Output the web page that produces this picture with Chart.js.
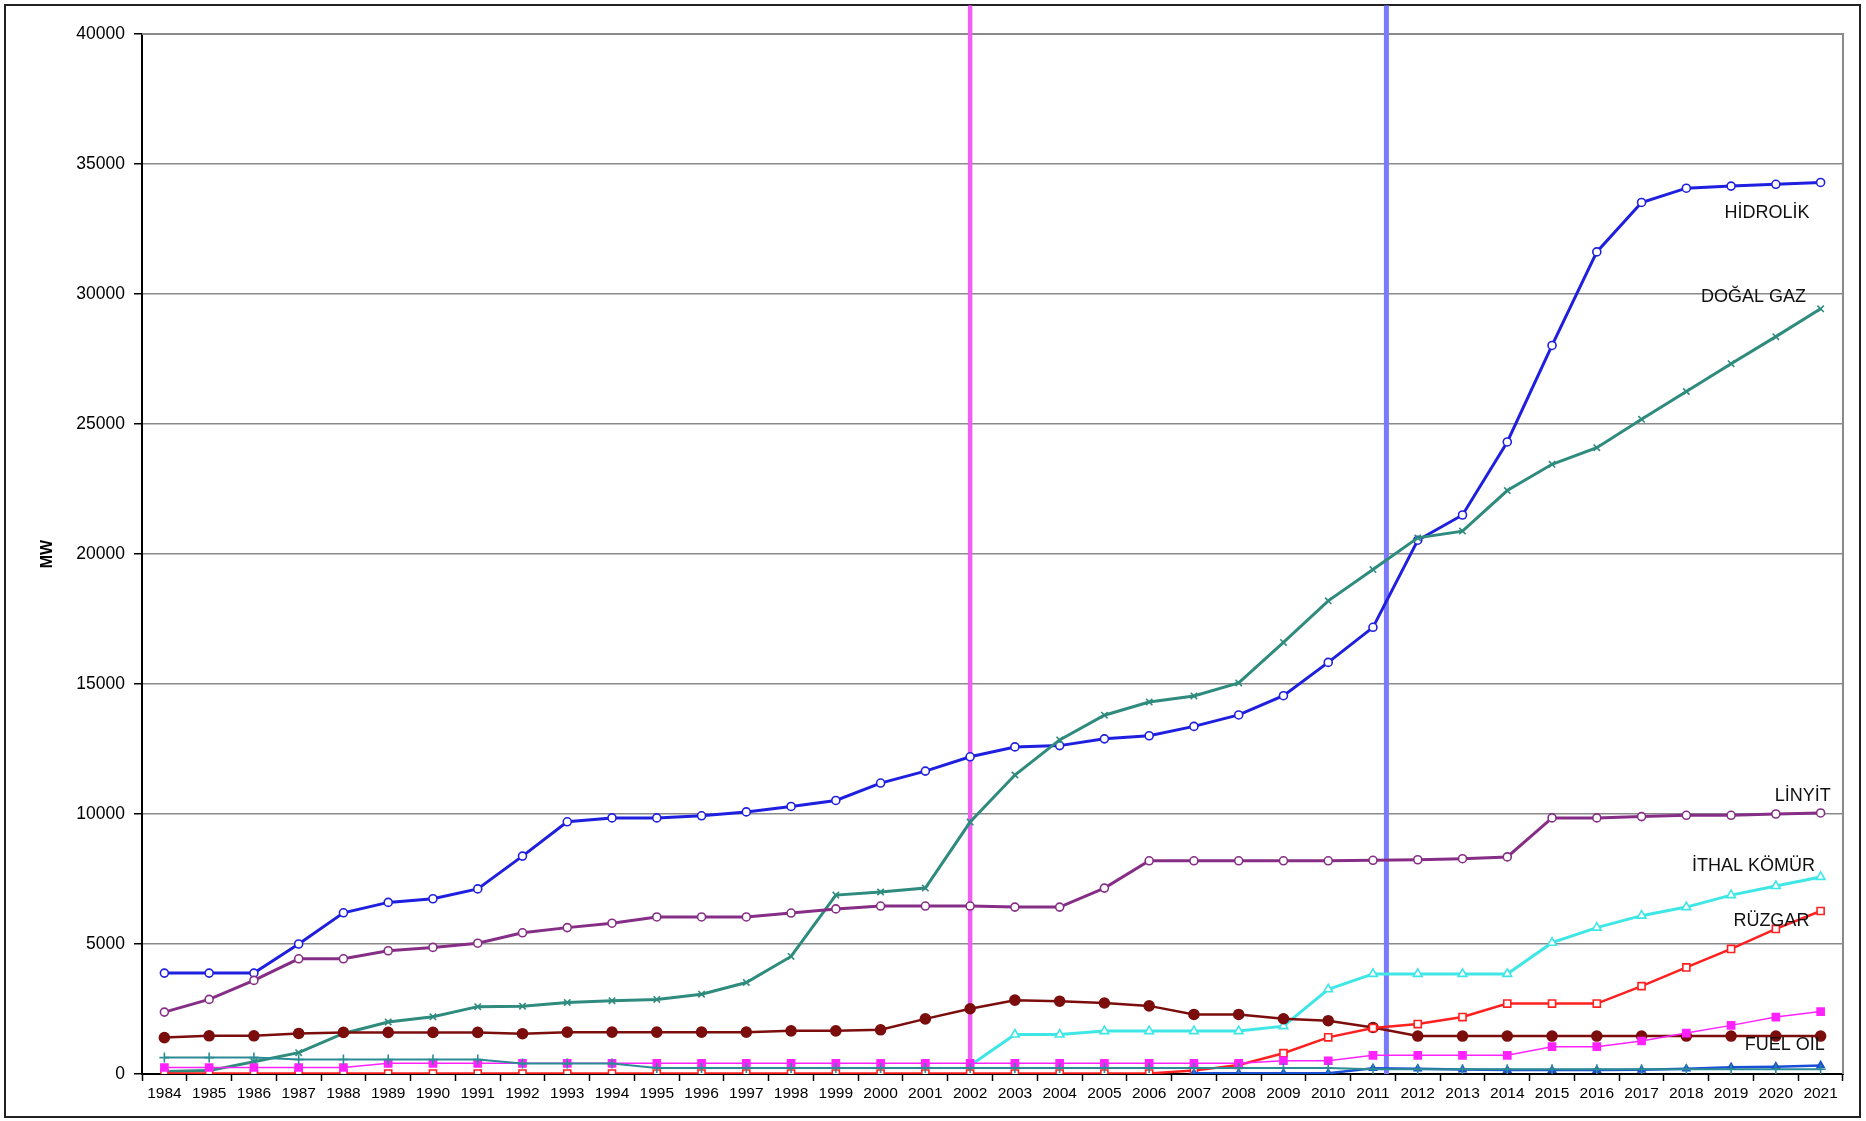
<!DOCTYPE html>
<html>
<head>
  <title>Kurulu Güç</title>
  <script src="https://cdn.jsdelivr.net/npm/chart.js"></script>
  <style>
    html, body {
      margin: 0;
      padding: 0;
      background: #fff;
      overflow: hidden;
    }
    #wrap {
      position: relative;
      width: 1866px;
      height: 1121px;
    }
  </style>
</head>
<body>
  <div id="wrap">
    <canvas id="capacityChart"></canvas>
  </div>

  <script>
    const years = ['1984','1985','1986','1987','1988','1989','1990','1991','1992','1993',
      '1994','1995','1996','1997','1998','1999','2000','2001','2002','2003',
      '2004','2005','2006','2007','2008','2009','2010','2011','2012','2013',
      '2014','2015','2016','2017','2018','2019','2020','2021'];

    const hidrolik = [3880,3880,3880,5000,6200,6600,6740,7120,8380,9700,
      9850,9850,9930,10080,10290,10520,11190,11650,12200,12580,
      12630,12890,13010,13370,13810,14550,15830,17180,20530,21500,
      24310,28020,31620,33520,34070,34150,34220,34290];

    const dogalGaz = [100,130,470,820,1560,2000,2200,2590,2610,2750,
      2820,2870,3070,3520,4520,6880,7000,7150,9690,11500,
      12850,13800,14310,14540,15040,16600,18200,19400,20620,20880,
      22440,23450,24090,25180,26250,27320,28360,29430];

    const linyit = [2380,2870,3600,4430,4430,4740,4870,5030,5430,5630,
      5800,6040,6040,6040,6190,6350,6460,6460,6460,6420,
      6420,7150,8200,8200,8200,8200,8200,8220,8240,8280,
      8350,9850,9850,9900,9950,9950,10000,10040];

    const ithalKomur = [null,null,null,null,null,null,null,null,null,null,
      null,null,null,null,null,null,null,null,330,1520,
      1520,1650,1650,1650,1650,1840,3260,3850,3850,3850,
      3850,5050,5630,6090,6420,6880,7230,7580];

    const ruzgar = [20,20,20,20,20,20,20,20,20,20,
      20,20,20,20,20,20,20,20,20,20,
      20,20,20,130,350,800,1410,1770,1920,2190,
      2710,2710,2710,3380,4100,4810,5580,6270];

    const fuelOil = [1400,1470,1470,1560,1600,1600,1600,1600,1550,1610,
      1610,1610,1610,1610,1660,1660,1700,2120,2510,2840,
      2800,2730,2620,2290,2290,2125,2050,1790,1460,1460,
      1460,1460,1460,1460,1460,1460,1460,1460];

    const diger = [250,250,250,250,250,410,410,410,410,410,
      410,410,410,410,410,410,410,410,410,410,
      410,410,410,410,410,510,510,717,717,717,
      717,1050,1050,1270,1575,1870,2190,2400];

    const tasKomuru = [630,630,630,560,560,560,560,560,400,400,
      400,230,230,230,230,230,230,230,230,230,
      230,230,230,230,230,230,230,180,180,180,
      180,180,180,180,180,180,180,180];

    const digerYeni = [null,null,null,null,null,null,null,null,null,null,
      null,null,null,null,null,null,null,null,null,null,
      null,null,null,30,30,30,30,220,200,170,
      150,150,150,160,200,260,280,330];

    // vertical marker lines (year index on the hidden linear axis)
    const markerLines = [
      { at: 18, color: '#f060f0', width: 4.5 },
      { at: 18, color: '#d81cd8', width: 1.2 },
      { at: 27.3, color: '#7a7aff', width: 5 },
      { at: 27.3, color: '#1414b4', width: 1.5 }
    ];
    const markerTop = 41100;

    const seriesNames = ['HİDROLİK', 'DOĞAL GAZ', 'LİNYİT', 'İTHAL KÖMÜR', 'RÜZGAR', 'FUEL OIL'];

    const canvas = document.getElementById('capacityChart');
    const ctx = canvas.getContext('2d');
    const font = 'Liberation Sans, Arial, sans-serif';

    function series(label, data, color, width, style, radius, fill) {
      return {
        label: label,
        data: data,
        borderColor: color,
        backgroundColor: fill,
        borderWidth: width,
        pointStyle: style,
        pointRadius: radius,
        pointBorderColor: color,
        pointBackgroundColor: fill,
        pointBorderWidth: 1.6,
        tension: 0,
        spanGaps: false
      };
    }

    const datasets = [
      series('Taşkömürü', tasKomuru, '#2c8c96', 2, 'cross', 5, '#2c8c96'),
      series('Diğer', digerYeni, '#1a4fd6', 2.5, 'triangle', 4, '#1a4fd6'),
      series('Diğer2', diger, '#ff22ff', 1.5, 'rect', 5, '#ff22ff'),
      series(seriesNames[4], ruzgar, '#ff2020', 2.5, 'rect', 5, '#ffffff'),
      series(seriesNames[5], fuelOil, '#7b0d0d', 2.5, 'circle', 5, '#7b0d0d'),
      series(seriesNames[3], ithalKomur, '#3ee6e6', 3, 'triangle', 5, '#ffffff'),
      series(seriesNames[2], linyit, '#862e86', 3, 'circle', 4, '#ffffff'),
      series(seriesNames[1], dogalGaz, '#2e8b7d', 3, 'crossRot', 4.5, '#2e8b7d'),
      series(seriesNames[0], hidrolik, '#1f1fe0', 3, 'circle', 4, '#ffffff')
    ];

    markerLines.forEach(m => {
      datasets.push({
        label: 'marker',
        data: [{ x: m.at, y: 0 }, { x: m.at, y: markerTop }],
        xAxisID: 'xv',
        borderColor: m.color,
        borderWidth: m.width,
        pointRadius: 0,
        clip: false
      });
    });

    // text next to the line ends: [x index, value]
    const labelSpots = [[35.8, 33100], [35.5, 29900], [36.6, 10700], [35.5, 8000], [35.9, 5900], [36.2, 1100]];

    const framePlugin = {
      id: 'frame',
      beforeDraw(chart) {
        const c = chart.ctx;
        c.save();
        c.fillStyle = '#ffffff';
        c.fillRect(0, 0, chart.width, chart.height);
        c.strokeStyle = '#222';
        c.lineWidth = 2;
        c.strokeRect(5, 5, chart.width - 11, chart.height - 9);
        c.restore();
      },
      beforeDatasetsDraw(chart) {
        const a = chart.chartArea;
        const c = chart.ctx;
        c.save();
        c.strokeStyle = '#8a8a8a';
        c.lineWidth = 2;
        c.beginPath();
        c.moveTo(a.left, a.top);
        c.lineTo(a.right, a.top);
        c.lineTo(a.right, a.bottom);
        c.stroke();
        c.restore();
      },
      afterDatasetsDraw(chart) {
        const c = chart.ctx;
        const xs = chart.scales.xv;
        const ys = chart.scales.y;
        c.save();
        c.font = '18px ' + font;
        c.fillStyle = '#111';
        c.textAlign = 'center';
        c.textBaseline = 'middle';
        seriesNames.forEach((name, i) => {
          c.fillText(name, xs.getPixelForValue(labelSpots[i][0]), ys.getPixelForValue(labelSpots[i][1]));
        });
        c.restore();
      }
    };

    const chart = new Chart(ctx, {
      type: 'line',
      data: {
        labels: years,
        datasets: datasets
      },
      options: {
        responsive: true,
        maintainAspectRatio: false,
        animation: false,
        layout: {
          padding: { left: 0, top: 34, right: 23, bottom: 0 }
        },
        plugins: {
          legend: { display: false },
          tooltip: { enabled: false }
        },
        scales: {
          x: {
            type: 'category',
            offset: true,
            afterFit(scale) { scale.height = 47; },
            border: { color: '#000', width: 2 },
            grid: {
              offset: true,
              drawOnChartArea: false,
              drawTicks: true,
              tickLength: 7,
              tickColor: '#000',
              tickWidth: 1.5
            },
            ticks: {
              autoSkip: false,
              maxRotation: 0,
              minRotation: 0,
              padding: 3,
              color: '#000',
              font: { family: font, size: 15.5 }
            }
          },
          xv: {
            type: 'linear',
            display: false,
            min: -0.5,
            max: 37.5
          },
          y: {
            min: 0,
            max: 40000,
            afterFit(scale) { scale.width = 142; },
            border: { color: '#000', width: 2 },
            grid: {
              color: '#8a8a8a',
              lineWidth: 1.5,
              tickLength: 8,
              tickColor: '#000'
            },
            ticks: {
              stepSize: 5000,
              padding: 9,
              color: '#000',
              font: { family: font, size: 17.5 },
              callback: v => String(v)
            },
            title: {
              display: true,
              text: 'MW',
              color: '#000',
              padding: { top: 38, bottom: 0 },
              font: { family: font, size: 16, weight: 'bold' }
            }
          }
        }
      },
      plugins: [framePlugin]
    });
  </script>
</body>
</html>
